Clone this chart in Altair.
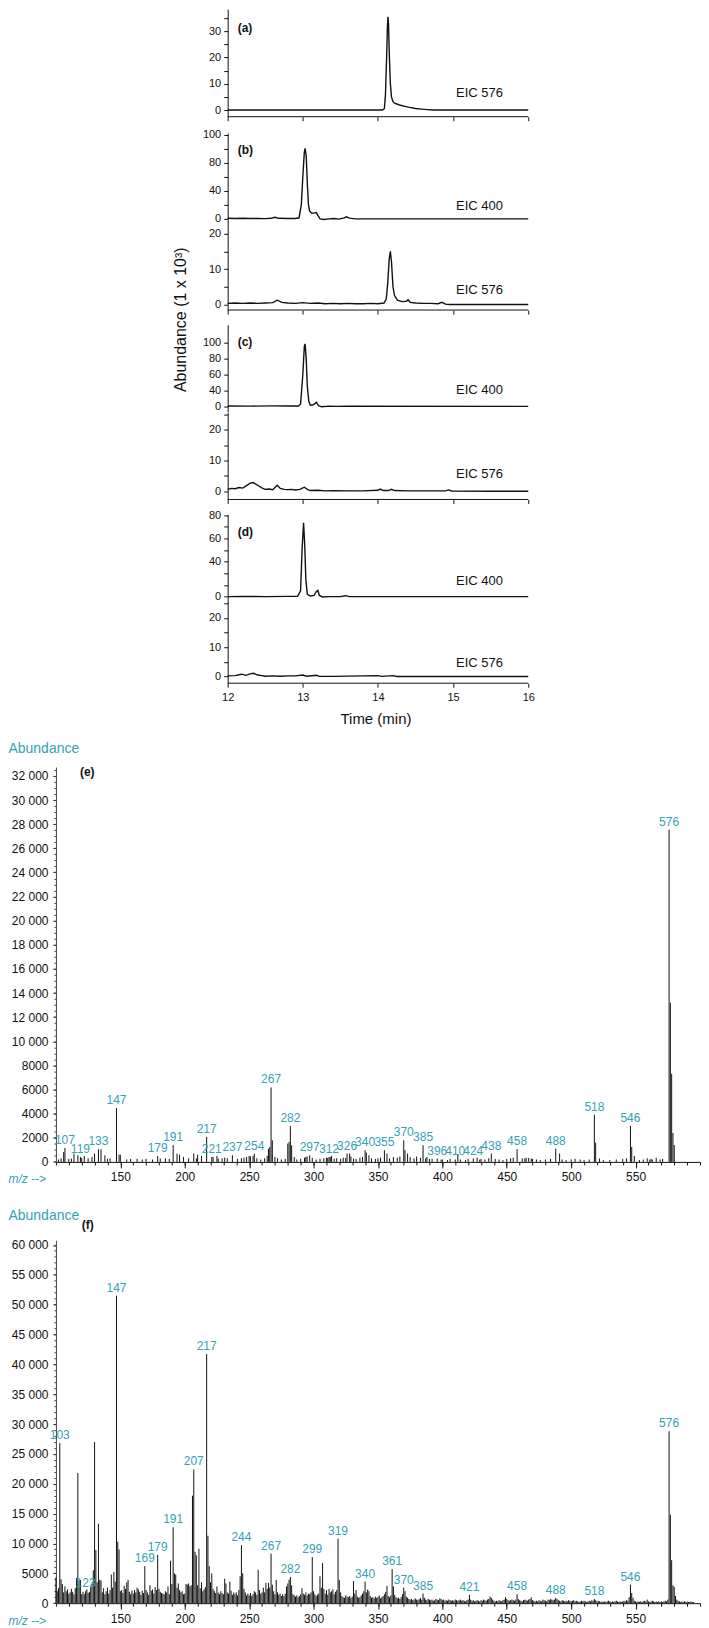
import altair as alt
import pandas as pd

FONT = "Liberation Sans"
INK = "#111111"
TEAL = "#35a1b3"

# ---------------- chromatograms (a)-(d) ----------------
TIME_TICKS = [12, 13, 14, 15, 16]
TIME_LEFT = 9.7143      # left edge of the shared column (time axis starts at 12 min)
AXIS_SHIFT = -172       # chromatogram y axes sit at 12 min

A576_T = [12.0, 14.06, 14.085, 14.10, 14.115, 14.125, 14.133, 14.14, 14.15, 14.165, 14.18, 14.20,
          14.22, 14.26, 14.30, 14.36, 14.42, 14.50, 14.58, 14.66, 14.73, 16.0]
A576_V = [0, 0, 0.5, 6, 20, 31, 35.5, 33, 22, 10, 5, 3.2, 2.6, 2.2, 1.8, 1.4, 1.0, 0.6, 0.35, 0.15, 0, 0]

B400_T = [12.0, 12.1, 12.2, 12.3, 12.4, 12.5, 12.58, 12.63, 12.68, 12.8, 12.9, 12.95, 12.98, 13.0,
          13.02, 13.03, 13.045, 13.06, 13.075, 13.09, 13.12, 13.16, 13.18, 13.2, 13.23, 13.28, 13.35,
          13.42, 13.48, 13.55, 13.58, 13.62, 13.7, 16.0]
B400_V = [0.8, 0.6, 0.9, 0.5, 0.6, 0.4, 0.8, 2.2, 0.8, 0.6, 0.5, 1.5, 20, 60, 95, 100.6, 90, 50, 20,
          11, 8, 8.5, 9, 5, 0, -0.8, 0, 0.5, -0.3, 1.5, 3, 1, 0, 0]

B576_T = [12.0, 12.1, 12.2, 12.3, 12.4, 12.5, 12.6, 12.66, 12.72, 12.8, 12.9, 13.0, 13.1, 13.2, 13.3,
          13.4, 13.5, 13.6, 13.7, 13.8, 13.9, 14.0, 14.08, 14.11, 14.13, 14.15, 14.165, 14.18, 14.2,
          14.22, 14.26, 14.32, 14.38, 14.40, 14.43, 14.5, 14.6, 14.7, 14.8, 14.85, 14.9, 14.95, 16.0]
B576_V = [0.3, 0.4, 0.3, 0.4, 0.3, 0.4, 0.5, 1.2, 0.6, 0.4, 0.3, 0.5, 0.3, 0.4, 0.2, 0.3, 0.2, 0.3,
          0.2, 0.2, 0.3, 0.2, 0.4, 1.5, 6, 13, 15, 12, 5, 2.5, 1.2, 0.8, 0.9, 1.3, 0.6, 0.4, 0.3, 0.3,
          0.2, 0.6, 0.1, 0, 0]

C400_T = [12.0, 12.3, 12.6, 12.8, 12.94, 12.97, 13.0, 13.02, 13.03, 13.045, 13.06, 13.08, 13.1, 13.14,
          13.18, 13.21, 13.25, 13.35, 13.45, 13.6, 16.0]
C400_V = [0.5, 0.3, 0.6, 0.4, 0.5, 3, 40, 75, 78.2, 60, 25, 6, 1.5, 2, 5, 1, -0.5, 0.3, 0, 0.3, 0]

C576_T = [12.0, 12.05, 12.1, 12.15, 12.2, 12.25, 12.3, 12.34, 12.38, 12.42, 12.46, 12.5, 12.55, 12.6,
          12.66, 12.7, 12.75, 12.8, 12.85, 12.9, 12.96, 13.02, 13.06, 13.1, 13.2, 13.3, 13.4, 13.6,
          13.8, 14.0, 14.03, 14.07, 14.14, 14.18, 14.22, 14.4, 14.6, 14.9, 14.94, 14.98, 15.5, 16.0]
C576_V = [0.6, 0.9, 0.8, 1.2, 1.0, 1.8, 2.6, 2.8, 2.2, 1.6, 1.0, 0.6, 0.7, 0.5, 1.9, 0.9, 0.6, 0.5,
          0.6, 0.4, 0.6, 1.3, 0.6, 0.2, 0.3, 0.1, 0.15, 0.1, 0.1, 0.3, 0.7, 0.2, 0.2, 0.6, 0.2, 0.1,
          0.1, 0.1, 0.4, 0.05, 0, 0]

D400_T = [12.0, 12.2, 12.5, 12.8, 12.93, 12.97, 12.99, 13.01, 13.025, 13.04, 13.06, 13.1, 13.15, 13.18,
          13.2, 13.22, 13.26, 13.35, 13.5, 13.57, 13.62, 16.0]
D400_V = [0, 0.2, 0, 0.2, 0.3, 5, 40, 63.4, 45, 15, 2, 0.5, 1, 4.5, 5.3, 1, -0.3, 0, 0, 0.8, 0, 0]

D576_T = [12.0, 12.1, 12.15, 12.19, 12.24, 12.3, 12.34, 12.4, 12.45, 12.5, 12.6, 12.7, 12.8, 12.9,
          13.0, 13.05, 13.18, 13.22, 13.4, 14.0, 14.05, 14.15, 14.2, 14.25, 16.0]
D576_V = [0.2, 0.3, 0.6, 0.8, 0.4, 0.9, 1.1, 0.5, 0.3, 0.1, 0.2, 0.1, 0.2, 0.2, 0.5, 0.1, 0.4, 0.05,
          0.05, 0.3, 0.05, 0.2, 0.3, 0, 0]

# y-axis ticks (positions) and the labels printed at them
A_TICKS, A_LABELS = [0, 5, 10, 15, 20, 25, 30, 35], ["0", "", "10", "", "20", "", "30", ""]
B400_TICKS, B400_LABELS = [0, 20, 40, 60, 80, 100, 120], ["0", "", "40", "", "80", "", "100"]
S576_TICKS, S576_LABELS = [0, 5, 10, 15, 20], ["0", "", "10", "", "20"]
C400_TICKS, C400_LABELS = [0, 20, 40, 60, 80], ["0", "40", "60", "80", "100"]
L576_TICKS, L576_LABELS = [0, 5, 10, 15, 20, 25], ["0", "", "10", "", "20", ""]
D400_TICKS, D400_LABELS = [0, 10, 20, 30, 40, 50, 60, 70], ["0", "", "", "40", "", "60", "", "80"]

# ---------------- mass spectra (e), (f) ----------------
MZ_DOMAIN = [100, 600]
MZ_MAJOR = [150, 200, 250, 300, 350, 400, 450, 500, 550]
MZ_MINOR = list(range(100, 601, 10))

E_MZ = [102, 104, 106, 107, 110, 112, 114, 117, 119, 120, 122, 125, 128, 130, 133, 135, 138, 140, 142,
        147, 149, 150, 155, 158, 163, 167, 170, 175, 179, 181, 185, 188, 191, 194, 196, 199, 203, 207,
        209, 210, 213, 217, 221, 222, 225, 226, 229, 231, 233, 237, 241, 244, 246, 248, 250, 251, 253,
        254, 256, 259, 262, 264, 265, 266, 267, 268, 270, 272, 275, 278, 280, 281, 282, 283, 285, 287,
        290, 293, 294, 295, 297, 299, 302, 305, 308, 310, 311, 312, 313, 314, 316, 318, 321, 323, 325,
        326, 328, 329, 331, 333, 336, 338, 340, 341, 343, 345, 348, 350, 352, 355, 357, 359, 362, 365,
        367, 370, 371, 373, 375, 378, 380, 383, 385, 387, 388, 390, 392, 396, 399, 400, 404, 406, 410,
        412, 414, 418, 420, 424, 427, 429, 430, 433, 436, 438, 441, 444, 447, 450, 453, 455, 458, 462,
        464, 465, 467, 469, 470, 473, 476, 480, 484, 488, 491, 493, 496, 500, 503, 507, 510, 514, 518,
        519, 522, 525, 530, 535, 540, 543, 546, 547, 549, 553, 556, 559, 561, 562, 563, 566, 569, 571,
        576, 577, 578, 579, 580]
E_AB = [200, 300, 830, 1150, 250, 280, 690, 550, 400, 330, 500, 300, 400, 690, 1050, 1050, 550, 250, 300,
        4470, 600, 600, 200, 250, 250, 200, 250, 200, 500, 280, 300, 250, 1400, 690, 600, 410, 300, 700,
        300, 600, 500, 2070, 410, 410, 500, 280, 300, 350, 300, 550, 250, 300, 350, 410, 500, 450, 500,
        690, 300, 200, 300, 500, 1100, 1240, 6170, 1790, 410, 300, 200, 250, 1520, 1650, 2980, 1380, 410, 200,
        250, 350, 410, 450, 550, 330, 200, 250, 300, 350, 330, 410, 410, 500, 280, 300, 250, 350, 330,
        690, 690, 450, 280, 250, 350, 410, 970, 770, 550, 300, 250, 300, 350, 970, 690, 300, 400, 350,
        450, 1790, 970, 690, 400, 300, 450, 330, 1380, 300, 410, 250, 250, 280, 190, 200, 150, 250, 200,
        650, 200, 150, 250, 280, 350, 190, 250, 200, 300, 690, 250, 200, 150, 250, 300, 350, 1050, 300,
        280, 350, 330, 280, 250, 200, 150, 200, 250, 1100, 690, 200, 150, 200, 250, 200, 150, 200, 3920,
        1600, 280, 150, 150, 200, 250, 300, 2980, 1240, 500, 150, 200, 300, 190, 250, 190, 350, 200, 250,
        27540, 13200, 7300, 2400, 1400]
E_LABELS = [107, 119, 133, 147, 179, 191, 217, 221, 237, 254, 267, 282, 297, 312, 326, 340, 355, 370,
            385, 396, 410, 424, 438, 458, 488, 518, 546, 576]

F_MZ = list(range(100, 596))
F_AB = [
    4300, 2000, 2500, 26800, 4000, 3200, 1800, 2800, 2000, 2300,
    1600, 1800, 2400, 1900, 1500, 2500, 4200, 21800, 3800, 3900,
    1500, 1900, 1500, 2000, 2300, 1700, 1900, 2700, 3300, 5500,
    27000, 8900, 3500, 13300, 3900, 3800, 1800, 2500, 1500, 2000,
    2600, 1600, 2200, 4800, 2600, 5200, 3600, 51500, 10300, 9000,
    2000, 2200, 1700, 2900, 2400, 3500, 3900, 1900, 1500, 2100,
    1600, 2200, 1800, 2600, 2300, 1900, 1400, 2100, 1700, 6200,
    2200, 1800, 1400, 3000, 2100, 2300, 1600, 2700, 2200, 8100,
    2400, 1900, 1700, 1600, 1500, 2000, 1800, 2800, 1500, 7100,
    3200, 12700, 5000, 4800, 2600, 3300, 2200, 1800, 2000, 1500,
    1600, 3200, 3100, 3300, 2800, 3000, 18000, 22400, 8600, 8000,
    3000, 9100, 2500, 3500, 2000, 2300, 2700, 41700, 11300, 6200,
    3500, 5000, 2400, 2000, 1700, 2800, 1800, 1500, 2000, 1700,
    1500, 4100, 3300, 1800, 1600, 3600, 2100, 1400, 1800, 1500,
    1800, 1300, 2200, 4500, 9700, 5000, 2400, 1800, 1300, 1600,
    1300, 1700, 1200, 1500, 2000, 1800, 1400, 5600, 2200, 1600,
    1800, 2600, 1800, 3400, 2400, 3400, 2600, 8300, 3100, 2000,
    1500, 3900, 1800, 1400, 1600, 1200, 1500, 1200, 1600, 2800,
    3300, 3900, 4400, 3000, 1500, 1300, 1100, 1300, 1000, 1200,
    1500, 2500, 1600, 1400, 1800, 1300, 1600, 1500, 1800, 7700,
    2000, 1500, 1200, 1400, 1600, 4500, 2600, 6700, 2400, 1600,
    2200, 1400, 2400, 1800, 2000, 2300, 1500, 1900, 2200, 10800,
    3900, 1800, 1200, 1000, 900, 1300, 1100, 1000, 1200, 900,
    1100, 3700, 1600, 2200, 1100, 900, 1000, 1300, 1600, 2000,
    3600, 1800, 2300, 2000, 1200, 900, 1000, 800, 1100, 900,
    1000, 1300, 800, 1000, 1200, 1500, 1900, 2900, 1200, 1000,
    1300, 5700, 2800, 1400, 1000, 800, 900, 700, 1000, 1500,
    2600, 2000, 1100, 900, 700, 600, 700, 500, 600, 800,
    600, 500, 700, 900, 600, 1600, 900, 600, 500, 700,
    600, 500, 600, 400, 500, 700, 600, 500, 800, 700,
    500, 600, 400, 500, 400, 600, 500, 400, 500, 400,
    600, 500, 400, 500, 600, 400, 500, 400, 300, 500,
    600, 1400, 600, 400, 500, 300, 400, 500, 400, 300,
    500, 400, 600, 500, 400, 600, 700, 1100, 900, 600,
    400, 300, 400, 300, 500, 400, 300, 500, 600, 1000,
    700, 500, 400, 500, 600, 500, 400, 600, 1500, 700,
    500, 400, 300, 500, 600, 500, 400, 600, 700, 1000,
    500, 400, 300, 400, 300, 500, 400, 300, 600, 500,
    400, 300, 600, 500, 700, 600, 500, 600, 900, 700,
    500, 400, 300, 500, 400, 300, 400, 300, 500, 400,
    300, 400, 500, 300, 400, 300, 200, 300, 400, 300,
    400, 300, 200, 300, 400, 300, 500, 400, 700, 500,
    300, 400, 300, 200, 300, 200, 300, 200, 300, 400,
    300, 200, 300, 200, 300, 400, 300, 200, 300, 200,
    300, 400, 300, 500, 400, 1000, 3100, 1700, 900, 400,
    300, 200, 300, 200, 300, 200, 300, 400, 300, 600,
    300, 200, 300, 400, 300, 200, 300, 200, 300, 200,
    300, 200, 300, 400, 300, 600, 28800, 14800, 7200, 3000,
    2700, 1200, 600, 400, 300, 200, 300, 200, 300, 200,
    300, 200, 200, 300, 200, 200]
F_LABELS = [103, 123, 147, 169, 179, 191, 207, 217, 244, 267, 282, 299, 319, 340, 361, 370, 385, 421,
            458, 488, 518, 546, 576]

E_MAJOR = list(range(0, 32001, 2000))
E_MINOR = list(range(0, 32701, 500))
F_MAJOR = list(range(0, 60001, 5000))
F_MINOR = list(range(0, 60701, 1000))


def label_expr(ticks, labels):
    expr = "''"
    for t, lab in reversed(list(zip(ticks, labels))):
        expr = f"datum.value == {t} ? '{lab}' : ({expr})"
    return expr


def chrom(t, v, ydom, yticks, ylabels, h, tag=None, eic=None, xaxis=False, xlabels=False, ytitle=False):
    xs = alt.Scale(domain=[TIME_LEFT, TIME_TICKS[-1]], nice=False, zero=False)
    ys = alt.Scale(domain=ydom, nice=False, zero=False)
    ykw = dict(orient="left", values=yticks, labelExpr=label_expr(yticks, ylabels), offset=AXIS_SHIFT,
               tickSize=4, labelFontSize=11, labelPadding=3, grid=False, domain=True)
    if ytitle:
        ykw.update(title="Abundance  (1 x 10³)", titleAngle=270, titleX=-47, titleY=94.5,
                   titleAlign="center", titleBaseline="middle", titleFontSize=16)
    else:
        ykw.update(title=None)
    df = pd.DataFrame({"t": t, "v": v})
    if xaxis:
        xkw = dict(orient="bottom", values=TIME_TICKS, domain=False, tickSize=4, labels=xlabels,
                   labelFontSize=11, labelPadding=4, grid=False)
        if xlabels:
            xkw.update(title="Time (min)", titleX=320, titleY=35, titleAlign="center",
                       titleBaseline="middle", titleFontSize=15)
        else:
            xkw.update(title=None)
        xenc = alt.X("t:Q", scale=xs, axis=alt.Axis(**xkw))
    else:
        xenc = alt.X("t:Q", scale=xs, axis=None)
    layers = [alt.Chart(df).mark_line(color=INK, strokeWidth=1.4).encode(
        x=xenc, y=alt.Y("v:Q", scale=ys, axis=alt.Axis(**ykw)))]
    if xaxis:
        bdf = pd.DataFrame({"t0": [TIME_TICKS[0]], "t1": [TIME_TICKS[-1]], "yb": [ydom[0]]})
        layers.append(alt.Chart(bdf).mark_rule(color=INK, strokeWidth=1).encode(
            x=alt.X("t0:Q", scale=xs, axis=None), x2="t1:Q", y=alt.Y("yb:Q", scale=ys, axis=None)))
    if tag:
        tdf = pd.DataFrame({"t": [tag[0]], "v": [tag[1]], "s": [tag[2]]})
        layers.append(alt.Chart(tdf).mark_text(align="left", baseline="middle", fontSize=12,
                                               fontWeight="bold", color=INK, font=FONT).encode(
            x=alt.X("t:Q", scale=xs, axis=None), y=alt.Y("v:Q", scale=ys, axis=None), text="s:N"))
    if eic:
        edf = pd.DataFrame({"t": [eic[0]], "v": [eic[1]], "s": [eic[2]]})
        layers.append(alt.Chart(edf).mark_text(align="left", baseline="middle", fontSize=13,
                                               color=INK, font=FONT).encode(
            x=alt.X("t:Q", scale=xs, axis=None), y=alt.Y("v:Q", scale=ys, axis=None), text="s:N"))
    return alt.layer(*layers).resolve_axis(x="independent", y="independent").properties(
        width=473, height=h)


def spectrum(mz, ab, labels, ymax, ymajor, yminor, h, tag, title_y):
    xs = alt.Scale(domain=MZ_DOMAIN, nice=False, zero=False)
    ys = alt.Scale(domain=[0, ymax], nice=False, zero=False)
    df = pd.DataFrame({"mz": mz, "ab": ab, "zero": 0})
    yfmt = ("datum.value >= 10000 ? replace(format(datum.value, ','), ',', ' ') : "
            "format(datum.value, 'd')")
    bars = alt.Chart(df).mark_rule(color=INK, strokeWidth=1).encode(
        x=alt.X("mz:Q", scale=xs, axis=alt.Axis(
            orient="bottom", values=MZ_MAJOR, tickSize=6, labelFontSize=12, labelPadding=4,
            grid=False, title="m/z -->", titleX=-48, titleY=17, titleAlign="left",
            titleBaseline="middle", titleColor=TEAL, titleFontStyle="italic",
            titleFontWeight="normal", titleFontSize=12)),
        y=alt.Y("ab:Q", scale=ys, axis=alt.Axis(
            orient="left", values=ymajor, labelExpr=yfmt, tickSize=3, labelFontSize=12,
            labelPadding=5, grid=False, domainColor="#444444", title="Abundance", titleAngle=0,
            titleX=-48, titleY=title_y, titleAlign="left", titleBaseline="middle",
            titleColor=TEAL, titleFontSize=14, titleFontWeight="normal")),
        y2="zero:Q")
    minor = alt.Chart(df).mark_rule(opacity=0).encode(
        x=alt.X("mz:Q", scale=xs, axis=alt.Axis(orient="bottom", values=MZ_MINOR, labels=False,
                                                domain=False, tickSize=3, grid=False, title=None)),
        y=alt.Y("ab:Q", scale=ys, axis=alt.Axis(orient="left", values=yminor, labels=False,
                                                domain=False, tickSize=2, grid=False, title=None,
                                                tickColor="#444444")),
        y2="zero:Q")
    lookup = dict(zip(mz, ab))
    ldf = pd.DataFrame({"mz": labels, "ab": [lookup[m] for m in labels],
                        "s": [str(m) for m in labels]})
    texts = alt.Chart(ldf).mark_text(align="center", baseline="bottom", dy=-1, fontSize=12,
                                     color=TEAL, font=FONT).encode(
        x=alt.X("mz:Q", scale=xs, axis=None), y=alt.Y("ab:Q", scale=ys, axis=None), text="s:N")
    tdf = pd.DataFrame({"mz": [tag[0]], "ab": [tag[1]], "s": [tag[2]]})
    tagm = alt.Chart(tdf).mark_text(align="left", baseline="middle", fontSize=12, fontWeight="bold",
                                    color=INK, font=FONT).encode(
        x=alt.X("mz:Q", scale=xs, axis=None), y=alt.Y("ab:Q", scale=ys, axis=None), text="s:N")
    return alt.layer(bars, minor, texts, tagm).resolve_axis(x="independent", y="independent").properties(
        width=645, height=h)


def spacer(h):
    return alt.Chart(pd.DataFrame({"z": [0]})).mark_point(opacity=0).encode(
        x=alt.X("z:Q", axis=None), y=alt.Y("z:Q", axis=None)).properties(width=10, height=h)


panel_a = chrom(A576_T, A576_V, [-2.55, 38.4], A_TICKS, A_LABELS, 107.7,
                tag=(12.133, 31.3, "(a)"), eic=(15.04, 6.6, "EIC 576"), xaxis=True)
panel_b1 = chrom(B400_T, B400_V, [-8.54, 122.4], B400_TICKS, B400_LABELS, 92,
                 tag=(12.133, 98.6, "(b)"), eic=(15.04, 18.5, "EIC 400"))
panel_b2 = chrom(B576_T, B576_V, [-1.58, 22.51], S576_TICKS, S576_LABELS, 85.3,
                 eic=(15.04, 4.07, "EIC 576"), xaxis=True, ytitle=True)
panel_c1 = chrom(C400_T, C400_V, [-6.9, 102.25], C400_TICKS, C400_LABELS, 87.3,
                 tag=(12.133, 80.3, "(c)"), eic=(15.04, 20.25, "EIC 400"))
panel_c2 = chrom(C576_T, C576_V, [-2.69, 25.55], L576_TICKS, L576_LABELS, 87,
                 eic=(15.04, 5.5, "EIC 576"), xaxis=True)
panel_d1 = chrom(D400_T, D400_V, [-3.17, 70.5], D400_TICKS, D400_LABELS, 86,
                 tag=(12.133, 55.1, "(d)"), eic=(15.04, 13.4, "EIC 400"))
panel_d2 = chrom(D576_T, D576_V, [-2.29, 26.04], L576_TICKS, L576_LABELS, 83,
                 eic=(15.04, 4.5, "EIC 576"), xaxis=True, xlabels=True)

spec_e = spectrum(E_MZ, E_AB, E_LABELS, 32732, E_MAJOR, E_MINOR, 395.4, (118.6, 32318, "(e)"), -19)
spec_f = spectrum(F_MZ, F_AB, F_LABELS, 60753, F_MAJOR, F_MINOR, 363.3, (120, 63378, "(f)"), -25)

chart = alt.vconcat(
    panel_a, spacer(15.3), panel_b1, panel_b2, spacer(13.4), panel_c1, panel_c2, spacer(15),
    panel_d1, panel_d2, spacer(84), spec_e, spacer(77.3), spec_f,
    spacing=0, bounds="flush", padding=0,
).configure(font=FONT).configure_view(stroke=None).configure_axis(
    labelFont=FONT, titleFont=FONT, labelColor=INK, domainColor=INK, tickColor=INK,
    titleColor=INK, titleFontWeight="normal", labelFlush=False, labelOverlap=False)

chart.save("out.html", embed_options={"renderer": "svg", "actions": False})
